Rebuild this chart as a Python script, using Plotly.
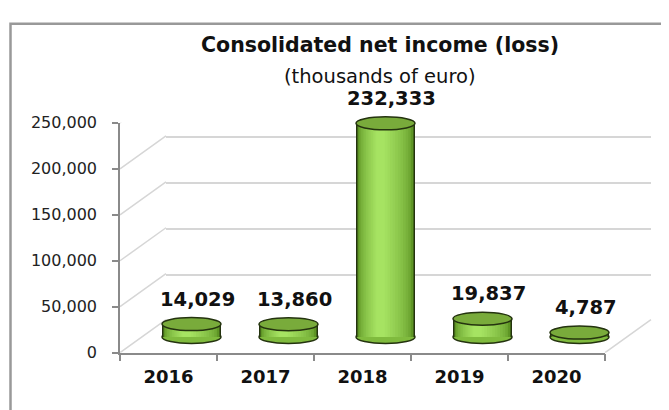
import plotly.graph_objects as go

W, H = 669, 410
OFF = 8  # the page body margin shifts the figure by this much

years = ["2016", "2017", "2018", "2019", "2020"]
net_income = [14029, 13860, 232333, 19837, 4787]
y_ticks = [0, 50000, 100000, 150000, 200000, 250000]

TITLE = "Consolidated net income (loss)"
SUBTITLE = "(thousands of euro)"

# pixel geometry of the fake 3-D box (screen px), front face + depth offset
FRONT_L, FRONT_R = 120, 605
FRONT_ZERO, FRONT_TOP = 360, 119
DEPTH_X, DEPTH_Y = 46, 33
Y_MAX = 250000
PX = (FRONT_ZERO - FRONT_TOP) / Y_MAX
CAT_PX = (FRONT_R - FRONT_L) / len(years)

GRID = "#d6d6d6"
AXIS = "#8a8a8a"
DARK = "#24330f"
TOP_FILL = "#79ab3b"
BASE_FILL = "#80bb3e"
EDGE = (0x5e, 0x95, 0x25)
HIGH = (0xa6, 0xe3, 0x62)
RX, RY = 29.5, 6.5


def fx(px):
    return (px - OFF) / W


def fy(px):
    return 1 - (px - OFF) / H


def xdom(shift):
    return [fx(FRONT_L + shift), fx(FRONT_R + shift)]


def ydom(shift, lo, hi):
    zero = FRONT_ZERO - shift
    return [fy(zero - lo * PX), fy(zero - hi * PX)]


def mix(a, b, t):
    return "rgb(%d,%d,%d)" % tuple(round(a[k] + (b[k] - a[k]) * t) for k in range(3))


# cylinder shading: outline, then progressively narrower and lighter strips
layers = [(59, 0, DARK)]
n = 12
for k in range(n):
    w = 56 - k * 4.3
    layers.append((w, -5 * k / (n - 1), mix(EDGE, HIGH, (k / (n - 1)) ** 0.6)))

idx = list(range(len(years)))
fig = go.Figure()

# placeholder so the back-wall subplot exists (drawn first, underneath)
fig.add_trace(go.Scatter(x=idx, y=net_income, mode="markers", marker_opacity=0,
                         hoverinfo="skip", showlegend=False, xaxis="x", yaxis="y"))

for w, s, c in layers:
    fig.add_trace(go.Bar(x=idx, y=net_income, width=w / CAT_PX,
                         offset=(-w / 2 + s) / CAT_PX, marker_color=c,
                         marker_line_width=0, hoverinfo="skip", showlegend=False,
                         xaxis="x2", yaxis="y2"))

fig.add_trace(go.Scatter(x=years, y=net_income, mode="markers", marker_opacity=0,
                         hoverinfo="skip", showlegend=False, xaxis="x3", yaxis="y3"))

shapes = []
for i, v in zip(idx, net_income):
    for yv, fill, layer in [(0, BASE_FILL, "below"), (v, TOP_FILL, "above")]:
        shapes.append(dict(type="circle", xref="x2", yref="y2",
                           xsizemode="pixel", ysizemode="pixel",
                           xanchor=i, yanchor=yv, x0=-RX, x1=RX, y0=-RY, y1=RY,
                           fillcolor=fill, line=dict(color=DARK, width=1.5),
                           layer=layer))

# left wall diagonals and right floor edge
for t in y_ticks:
    shapes.append(dict(type="line", xref="paper", yref="y3", ysizemode="pixel",
                       yanchor=t, x0=fx(FRONT_L), x1=fx(FRONT_L + DEPTH_X),
                       y0=0, y1=DEPTH_Y, line=dict(color=GRID, width=1.5),
                       layer="below"))
shapes.append(dict(type="line", xref="paper", yref="y3", ysizemode="pixel",
                   yanchor=0, x0=fx(FRONT_R), x1=fx(FRONT_R + DEPTH_X),
                   y0=0, y1=DEPTH_Y, line=dict(color=GRID, width=1.5), layer="below"))

# outer chart border (runs off the right and bottom edges)
shapes.append(dict(type="rect", xref="paper", yref="paper",
                   x0=fx(10.5), x1=1.1, y0=-0.1, y1=fy(15),
                   line=dict(color="#999999", width=2.5), layer="below"))

annotations = [
    dict(text=f"<b>{TITLE}</b>", xref="paper", yref="paper", x=fx(380), y=fy(37),
         xanchor="center", yanchor="middle", showarrow=False,
         font=dict(family="DejaVu Sans", size=20.5, color="#111111")),
    dict(text=SUBTITLE, xref="paper", yref="paper", x=fx(380), y=fy(70),
         xanchor="center", yanchor="middle", showarrow=False,
         font=dict(family="DejaVu Sans", size=19.5, color="#111111")),
]
for i, v in zip(idx, net_income):
    annotations.append(dict(text=f"<b>{v:,}</b>", xref="x2", yref="y2", x=i, y=v,
                            yshift=25, xshift=6, yanchor="middle", showarrow=False,
                            font=dict(family="DejaVu Sans", size=19.5, color="#111111")))

fig.update_layout(
    width=W, height=H, autosize=False,
    margin=dict(l=0, r=0, t=0, b=0),
    paper_bgcolor="white", plot_bgcolor="rgba(0,0,0,0)",
    barmode="overlay", showlegend=False,
    shapes=shapes, annotations=annotations,
    # back wall
    xaxis=dict(domain=xdom(DEPTH_X), range=[-0.5, 4.5], visible=False),
    yaxis=dict(domain=ydom(DEPTH_Y, 0, Y_MAX), range=[0, Y_MAX], tickvals=y_ticks,
               showgrid=True, gridcolor=GRID, gridwidth=1.5, zeroline=False,
               showticklabels=False, ticks="", showline=False, anchor="x"),
    # cylinders
    xaxis2=dict(domain=xdom(DEPTH_X / 2), range=[-0.5, 4.5], visible=False, anchor="y2"),
    yaxis2=dict(domain=ydom(DEPTH_Y / 2, -25000, 262000), range=[-25000, 262000],
                visible=False, anchor="x2"),
    # front axes
    xaxis3=dict(domain=xdom(0), type="category", range=[-0.5, 4.5], anchor="y3",
                tickson="boundaries", ticks="outside", ticklen=7, tickcolor=AXIS,
                tickwidth=1.5, showline=True, linecolor=AXIS, linewidth=1.5,
                showgrid=False, ticklabelstandoff=7,
                tickfont=dict(family="DejaVu Sans", size=18, color="#111111"),
                tickprefix="<b>", ticksuffix="</b>"),
    yaxis3=dict(domain=ydom(0, 0, Y_MAX), range=[0, Y_MAX], tickvals=y_ticks,
                tickformat=",", anchor="x3", ticks="outside", ticklen=6,
                tickcolor=AXIS, tickwidth=1.5, showline=True, linecolor=AXIS,
                linewidth=1.5, showgrid=False, zeroline=False, ticklabelstandoff=12,
                tickfont=dict(family="DejaVu Sans", size=16, color="#222222")),
)

fig.write_html("out.html")
